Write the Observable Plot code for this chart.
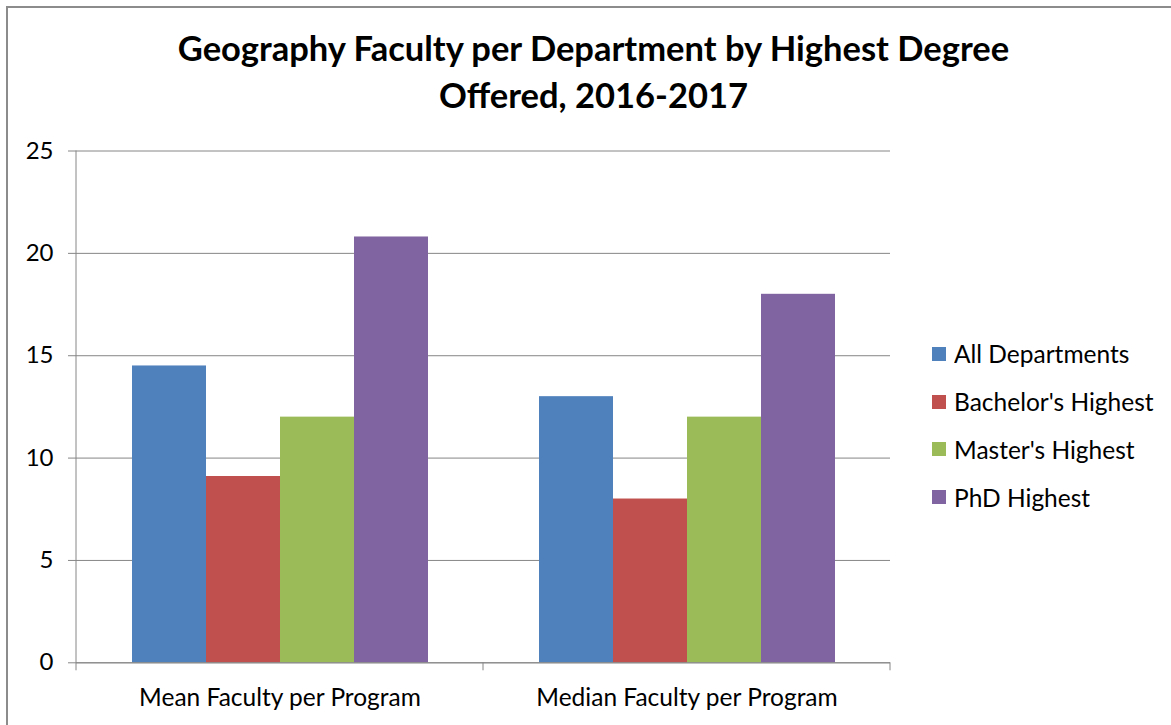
<!DOCTYPE html>
<html>
<head>
<meta charset="utf-8">
<script src="https://cdn.jsdelivr.net/npm/d3@7"></script>
<script src="https://cdn.jsdelivr.net/npm/@observablehq/plot@0.6"></script>
<style>
  html, body { margin: 0; padding: 0; background: #fff; }
  body { width: 1171px; height: 725px; position: relative; overflow: hidden; font-family: Lato, sans-serif; }
  #border { position: absolute; left: 6px; top: 6px; width: 1200px; height: 800px; border-left: 2px solid #8c8c8c; border-top: 2px solid #8c8c8c; }
  #title { position: absolute; left: 8px; top: 24px; width: 1171px; text-align: center; font: bold 34.5px/47.3px Lato, sans-serif; color: #000; }
  #chart { position: absolute; left: 0; top: 130px; }
  #legend { position: absolute; left: 932px; top: 330px; width: 239px; }
  #legend .lg-swatches { font: 24.5px Lato, sans-serif !important; color: #000 !important; margin: 0 !important; }
  #legend .lg-swatch { display: flex !important; align-items: center !important; height: 47.8px; padding: 0 !important; margin: 0 !important; }
  #legend .lg-swatch svg { margin-right: 8px !important; flex-shrink: 0; }
</style>
</head>
<body>
<div id="border"></div>
<div id="title">Geography Faculty per Department by Highest Degree<br>Offered, 2016-2017</div>
<div id="chart"></div>
<div id="legend"></div>
<script>
const stats = ["Mean Faculty per Program", "Median Faculty per Program"];
const series = ["All Departments", "Bachelor's Highest", "Master's Highest", "PhD Highest"];
const meanValues = [14.5, 9.1, 12, 20.8];
const medianValues = [13, 8, 12, 18];
const colors = ["#4F81BD", "#C0504D", "#9BBB59", "#8064A2"];
const yTicks = [0, 5, 10, 15, 20, 25];

const data = [];
series.forEach((s, i) => {
  data.push({stat: stats[0], series: s, value: meanValues[i]});
  data.push({stat: stats[1], series: s, value: medianValues[i]});
});

const gray = "#868686";

const chart = Plot.plot({
  width: 1171,
  height: 595,
  marginTop: 20.5,
  marginBottom: 62.7,
  marginLeft: 76,
  marginRight: 281,
  style: {fontFamily: "Lato, sans-serif", fontSize: "24px", color: "#000", background: "transparent", overflow: "visible"},
  fx: {domain: stats, padding: 0, label: null, axis: null},
  x: {domain: series, paddingInner: 0, paddingOuter: 0.75, axis: null},
  y: {domain: [0, 25], label: null},
  color: {domain: series, range: colors},
  marks: [
    Plot.gridY(yTicks, {stroke: gray, strokeOpacity: 1, strokeWidth: 1}),
    Plot.barY(data, {fx: "stat", x: "series", y: "value", fill: "series"}),
    Plot.ruleY([0], {stroke: gray, strokeWidth: 1}),
    Plot.axisY(yTicks, {tickSize: 8, tickPadding: 15, stroke: gray, label: null}),
    Plot.axisFx({anchor: "bottom", tickSize: 0, tickPadding: 26, fontSize: 24.5, label: null})
  ]
});
document.getElementById("chart").appendChild(chart);

// Excel-style category axis line and boundary tick marks, placed via Plot's scales
const fx = chart.scale("fx");
const y = chart.scale("y");
const y0 = y.apply(0), yTop = y.apply(25);
const edges = [fx.apply(stats[0]), ...stats.map(s => fx.apply(s) + fx.bandwidth)];
const svg = d3.select(chart);
svg.append("line")
  .attr("x1", edges[0]).attr("x2", edges[0])
  .attr("y1", yTop).attr("y2", y0 + 8)
  .attr("stroke", gray).attr("stroke-width", 1);
edges.slice(1).forEach(e => {
  svg.append("line")
    .attr("x1", e).attr("x2", e)
    .attr("y1", y0).attr("y2", y0 + 8)
    .attr("stroke", gray).attr("stroke-width", 1);
});

const legend = Plot.legend({
  color: {domain: series, range: colors},
  legend: "swatches",
  columns: 1,
  swatchSize: 14,
  className: "lg"
});
document.getElementById("legend").appendChild(legend);
</script>
</body>
</html>
